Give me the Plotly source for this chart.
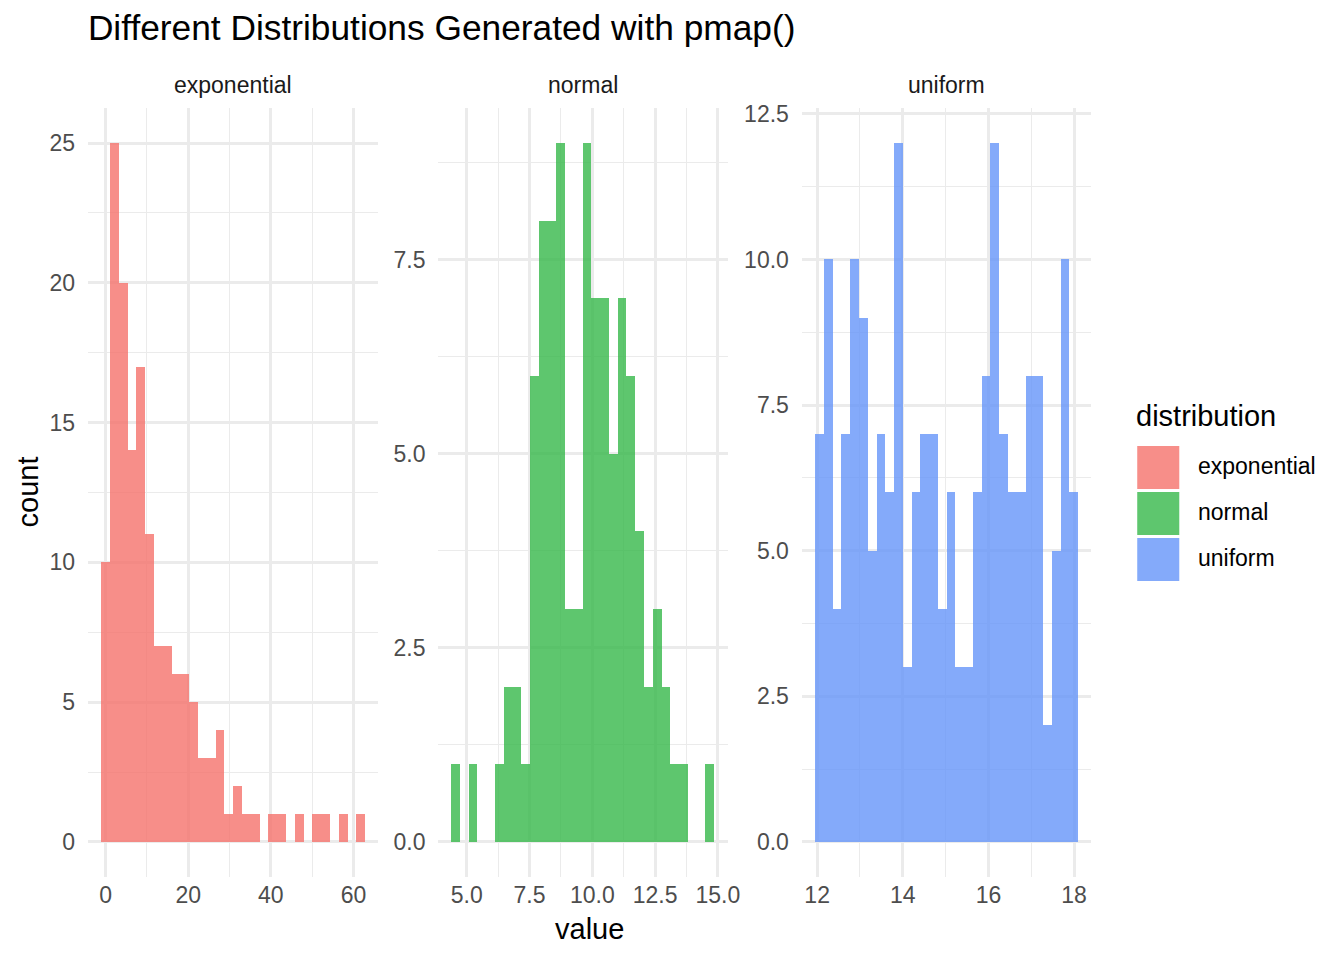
import numpy as np
import plotly.graph_objects as go

# histogram counts (30 bins per panel)
distributions = ["exponential", "normal", "uniform"]
colors = ["rgba(245,114,107,0.8)", "rgba(54,184,74,0.8)", "rgba(101,149,249,0.8)"]

exp_counts = [10, 25, 20, 14, 17, 11, 7, 7, 6, 6, 5, 3, 3, 4, 1,
              2, 1, 1, 0, 1, 1, 0, 1, 0, 1, 1, 0, 1, 0, 1]
norm_counts = [1, 0, 1, 0, 0, 1, 2, 2, 1, 6, 8, 8, 9, 3, 3,
               9, 7, 7, 5, 7, 6, 4, 2, 3, 2, 1, 1, 0, 0, 1]
unif_counts = [7, 10, 4, 7, 10, 9, 5, 7, 6, 12, 3, 6, 7, 7, 4,
               6, 3, 3, 6, 8, 12, 7, 6, 6, 8, 8, 2, 5, 10, 6]

# left edge of first bin and bin width
bin_starts = [-1.06, 4.40, 11.95]
bin_widths = [2.13, 0.349, 0.2047]

# axis ticks
x_tick0 = [0, 5, 12]
x_dtick = [20, 2.5, 2]
y_dtick = [5, 2.5, 2.5]
x_fmt = ["d", ".1f", "d"]
y_fmt = ["d", ".1f", ".1f"]

W, H = 1344, 960
panels_px = [(88, 378), (438, 727), (801, 1090)]
top_px, bottom_px = 107, 876
FONT = "Liberation Sans, Arial, Helvetica, sans-serif"
GRID = "#EBEBEB"

# the photographed page comes out a touch smaller than drawn, undo that
SX, SY, DY = 0.990, 0.993, 5.9


def fx(p):
    return (p / SX) / W


def fy(p):
    return 1 - ((p - DY) / SY) / H


fig = go.Figure()
all_counts = [exp_counts, norm_counts, unif_counts]

for i, name in enumerate(distributions):
    counts = np.array(all_counts[i])
    w = bin_widths[i]
    centers = bin_starts[i] + w * (np.arange(len(counts)) + 0.5)
    sfx = "" if i == 0 else str(i + 1)
    fig.add_trace(go.Bar(
        x=centers, y=counts, width=w, name=name,
        marker=dict(color=colors[i], line=dict(width=0)),
        showlegend=False,
        xaxis="x" + sfx, yaxis="y" + sfx,
    ))

    lo = bin_starts[i]
    hi = lo + w * len(counts)
    pad = 0.05 * (hi - lo)
    ymax = counts.max()
    xa = dict(
        domain=[fx(panels_px[i][0]), fx(panels_px[i][1])],
        range=[lo - pad, hi + pad], anchor="y" + sfx,
        tickmode="linear", tick0=x_tick0[i], dtick=x_dtick[i], tickformat=x_fmt[i],
        showgrid=True, gridcolor=GRID, gridwidth=2.7,
        minor=dict(tickmode="linear", tick0=x_tick0[i], dtick=x_dtick[i] / 2,
                   showgrid=True, gridcolor=GRID, gridwidth=1.4),
        zeroline=False, showline=False, ticks="",
        tickfont=dict(size=23, color="#4D4D4D", family=FONT),
        ticklabelstandoff=2,
    )
    ya = dict(
        domain=[fy(bottom_px), fy(top_px)],
        range=[-0.05 * ymax, 1.05 * ymax], anchor="x" + sfx,
        tickmode="linear", tick0=0, dtick=y_dtick[i], tickformat=y_fmt[i],
        showgrid=True, gridcolor=GRID, gridwidth=2.7,
        minor=dict(tickmode="linear", tick0=0, dtick=y_dtick[i] / 2,
                   showgrid=True, gridcolor=GRID, gridwidth=1.4),
        zeroline=False, showline=False, ticks="",
        tickfont=dict(size=23, color="#4D4D4D", family=FONT),
        ticklabelstandoff=12,
    )
    fig.layout["xaxis" + sfx] = xa
    fig.layout["yaxis" + sfx] = ya

    # facet strip label
    fig.add_annotation(
        x=fx((panels_px[i][0] + panels_px[i][1]) / 2), y=fy(84),
        xref="paper", yref="paper", text=name, showarrow=False,
        font=dict(size=23, color="#1A1A1A", family=FONT),
        xanchor="center", yanchor="middle",
    )

    # legend key + label
    key_top = 445 + 46 * i
    fig.add_shape(
        type="rect", xref="paper", yref="paper",
        x0=fx(1136), x1=fx(1178), y0=fy(key_top + 43), y1=fy(key_top),
        fillcolor=colors[i], line=dict(width=0),
    )
    fig.add_annotation(
        x=fx(1195), y=fy(key_top + 20.5), xref="paper", yref="paper",
        text=name, showarrow=False, xanchor="left", yanchor="middle",
        font=dict(size=23, color="#000000", family=FONT),
    )

# legend title
fig.add_annotation(
    x=fx(1133), y=fy(415), xref="paper", yref="paper", text="distribution",
    showarrow=False, xanchor="left", yanchor="middle",
    font=dict(size=29, color="#000000", family=FONT),
)

# axis titles
fig.add_annotation(
    x=fx((panels_px[0][0] + panels_px[2][1]) / 2), y=fy(928), xref="paper", yref="paper",
    text="value", showarrow=False, xanchor="center", yanchor="middle",
    font=dict(size=29, color="#000000", family=FONT),
)
fig.add_annotation(
    x=fx(28), y=fy((top_px + bottom_px) / 2), xref="paper", yref="paper",
    text="count", showarrow=False, textangle=-90, xanchor="center", yanchor="middle",
    font=dict(size=29, color="#000000", family=FONT),
)

fig.update_layout(
    width=W, height=H,
    margin=dict(l=0, r=0, t=0, b=0),
    paper_bgcolor="white", plot_bgcolor="white",
    bargap=0,
    title=dict(text="Different Distributions Generated with pmap()",
               x=fx(87), xanchor="left", xref="container",
               y=1 - 27.5 / H, yanchor="middle", yref="container",
               font=dict(size=35.3, color="#000000", family=FONT)),
    font=dict(family=FONT),
)

# drop the default body margin so the figure sits at the page origin
fig.write_html(
    "out.html",
    config={"displayModeBar": False},
    post_script="document.body.style.margin='0';document.body.style.overflow='hidden';",
)
